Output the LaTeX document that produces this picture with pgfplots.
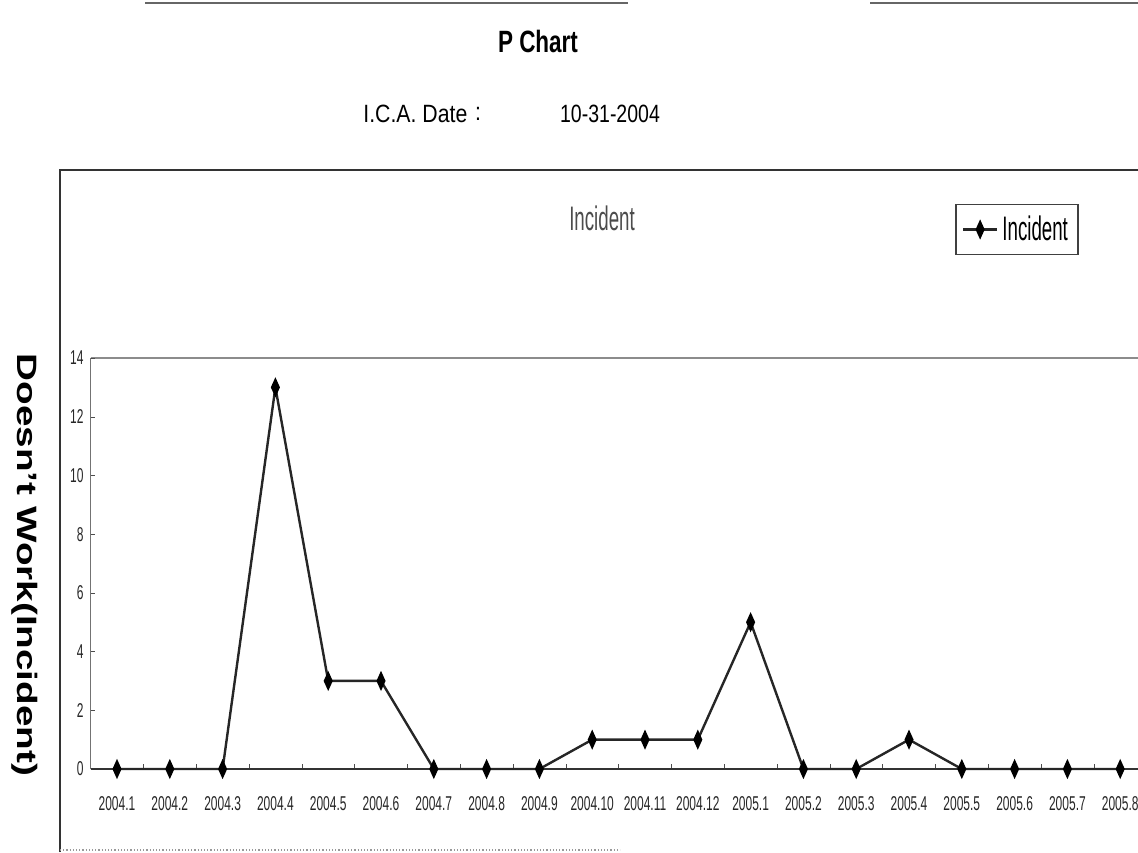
\documentclass[border=0pt]{standalone}
\usepackage{fontspec}
\usepackage{pgfplots}
\pgfplotsset{compat=1.18}
\setmainfont{Liberation Sans}
% narrow faces used throughout the sheet
\newfontfamily\titlefont[FakeStretch=0.73]{Liberation Sans Bold}
\newfontfamily\hdrfont[FakeStretch=0.85]{Liberation Sans}
\newfontfamily\numfont[FakeStretch=0.78]{Liberation Sans}
\newfontfamily\tickfont[FakeStretch=0.6]{Liberation Sans}
\newfontfamily\legfont[FakeStretch=0.55]{Liberation Sans}
\newfontfamily\ylabfont[FakeStretch=1.38]{Liberation Sans Bold}

\begin{document}
\begin{tikzpicture}
\useasboundingbox (0,0) rectangle (569pt,426pt);
\clip (0,0) rectangle (569pt,426pt);

% page rules and outer frame
\draw[black!60, line width=0.9pt] (72.5pt,424.5pt) -- (314pt,424.5pt);
\draw[black!60, line width=0.9pt] (435pt,424.5pt) -- (569pt,424.5pt);
\draw[black!80, line width=0.8pt] (30pt,0pt) -- (30pt,341pt) -- (569pt,341pt);
\draw[black!40, line width=0.6pt, densely dotted] (30pt,1pt) -- (310pt,1pt);

% headings
\node[font=\titlefont\fontsize{15.4}{18}\selectfont] at (269pt,405.5pt) {P Chart};
\node[font=\hdrfont\fontsize{12.5}{15}\selectfont, anchor=west, inner sep=0pt] at (181.5pt,369pt) {I.C.A. Date};
\node[font=\hdrfont\fontsize{12.5}{15}\selectfont, inner sep=0pt] at (239pt,369pt) {:};
\node[font=\numfont\fontsize{12.5}{15}\selectfont, inner sep=0pt] at (305pt,369pt) {10-31-2004};

% vertical axis caption
\node[font=\ylabfont\fontsize{14}{16}\selectfont, rotate=-90] at (12.5pt,143.5pt) {Doesn’t Work(Incident)};

\begin{axis}[
  at={(45.3pt,41.5pt)}, anchor=south west,
  scale only axis,
  width=528pt, height=205.5pt,
  xmin=-0.5, xmax=19.5,
  ymin=0, ymax=14,
  axis x line*=bottom, axis y line*=left,
  axis line style={-},
  x axis line style={black!80, line width=0.9pt},
  y axis line style={black!55, line width=0.6pt},
  xtick={0,...,19},
  xticklabels={2004.1,2004.2,2004.3,2004.4,2004.5,2004.6,2004.7,2004.8,2004.9,2004.10,2004.11,2004.12,2005.1,2005.2,2005.3,2005.4,2005.5,2005.6,2005.7,2005.8},
  minor x tick num=1,
  major x tick style={draw=none},
  minor x tick style={black!70},
  minor tick length=2.5pt,
  ytick={0,2,...,14},
  major tick length=2pt,
  tick align=inside,
  ytick style={black!70},
  extra y ticks={14},
  extra y tick labels={},
  extra y tick style={grid=major, major grid style={black!45, line width=0.8pt}},
  /pgf/number format/assume math mode=true,
  ticklabel style={font=\tickfont\fontsize{10}{12}\selectfont, text=black!85},
  xticklabel style={yshift=-10pt},
  clip=false,
  legend style={at={(0.8186,1.375)}, anchor=north west,
    draw=black!75, line width=0.8pt, fill=white,
    font=\legfont\fontsize{17}{19}\selectfont,
    inner xsep=3pt, inner ysep=3.5pt},
  legend cell align=left,
]
\addplot[black!85, line width=1.2pt, mark=diamond*, mark size=3.6pt,
  mark options={xscale=0.6, fill=black, draw=black}]
  coordinates {
  (0,0) (1,0) (2,0) (3,13) (4,3) (5,3) (6,0) (7,0) (8,0) (9,1)
  (10,1) (11,1) (12,5) (13,0) (14,0) (15,1) (16,0) (17,0) (18,0) (19,0)
  };
\addlegendentry{Incident}
\node[font=\legfont\fontsize{17}{19}\selectfont, text=black!70]
  at (rel axis cs:0.4843,1.34) {Incident};
\end{axis}
\end{tikzpicture}
\end{document}
